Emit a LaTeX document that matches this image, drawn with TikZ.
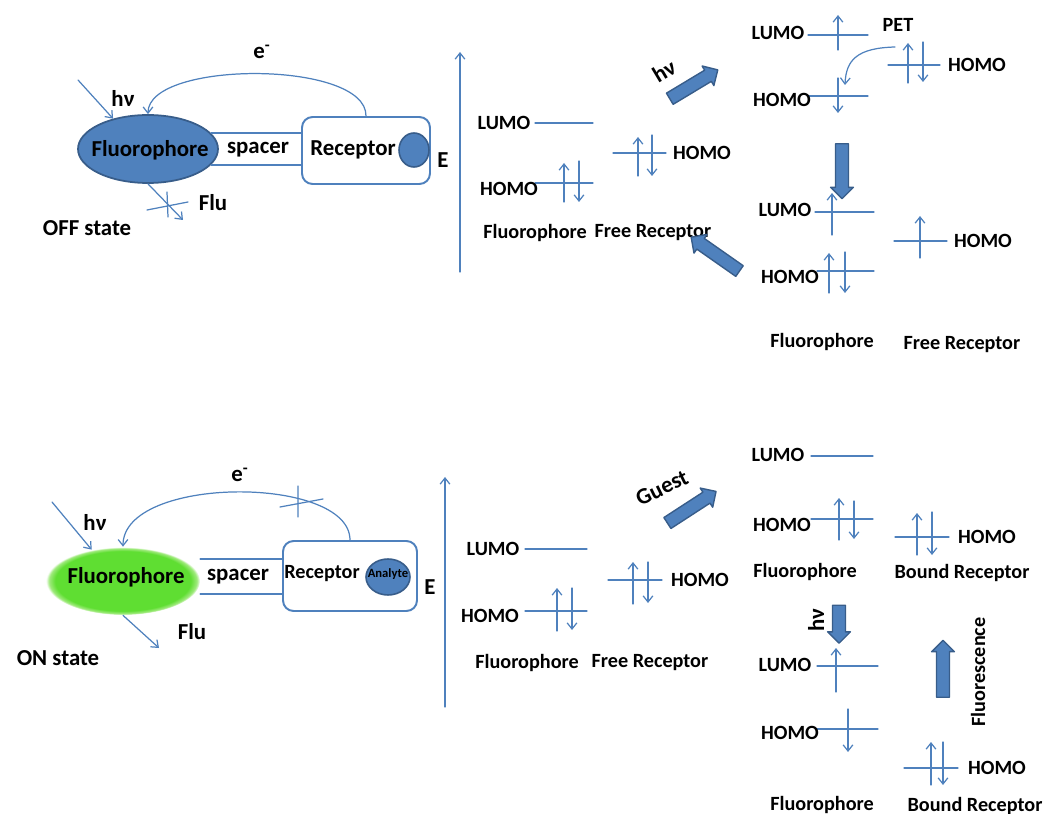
\documentclass[tikz,border=0pt]{standalone}
\usepackage{fontspec}
\setmainfont{Carlito}
\usetikzlibrary{arrows.meta,shapes.geometric,shapes.arrows}
\definecolor{lineblue}{RGB}{79,129,189}
\definecolor{darkblue}{RGB}{56,93,138}
\definecolor{glowgreen}{RGB}{95,222,50}
\definecolor{glowedge}{RGB}{160,234,125}
% soft green halo, the 25bp ring sits on the path border
\pgfdeclareradialshading{glow}{\pgfpoint{0bp}{0bp}}{color(0bp)=(glowgreen); color(22bp)=(glowgreen); color(24bp)=(glowedge); color(25bp)=(white); color(50bp)=(white)}
\tikzset{
  every picture/.style={line join=round, line cap=round},
  big/.style={font=\fontsize{13}{15}\selectfont\bfseries, inner sep=1pt},
  lbl/.style={font=\fontsize{11.5}{13}\selectfont\bfseries, inner sep=1pt},
  level/.style={draw=lineblue, line width=0.7pt},
  spin/.style={draw=lineblue, line width=0.7pt, -{Straight Barb[length=3.5pt,width=5.5pt]}},
  fluoro/.style={ellipse, fill=lineblue, draw=darkblue, line width=1pt, minimum width=2.8cm, minimum height=1.36cm, inner sep=0pt},
  recbox/.style={rectangle, rounded corners=6pt, draw=lineblue, line width=1.1pt, fill=white},
  site/.style={ellipse, fill=lineblue, draw=darkblue, line width=0.9pt, inner sep=0pt},
  blockarrow/.style={single arrow, fill=lineblue, draw=darkblue, line width=0.8pt, inner sep=3.3pt,
    single arrow head extend=2.8pt, single arrow head indent=0pt, minimum height=#1},
}

\begin{document}
\begin{tikzpicture}[x=0.02cm,y=-0.02cm]
\useasboundingbox (0,0) rectangle (1049,814);

% --- OFF state: free receptor quenches by PET
\node[fluoro] (fluA) at (148,149) {};
\node[big] (fluAt) at (150,150) {Fluorophore};
\node[recbox,minimum width=2.56cm,minimum height=1.34cm] (recA) at (366,150.5) {};
\node[big] (recAt) at (353,150) {Receptor};
\node[site,minimum width=0.6cm,minimum height=0.68cm] (siteA) at (414,150) {};
\draw[level,line width=1pt] (fluA.14) -- (fluA.14 -| recA.west) (fluA.-14) -- (fluA.-14 -| recA.west);
\node[big] (spA) at (258,150) {spacer};
\draw[spin] (recA.north) .. controls (367,60) and (148,60) .. (fluA.north);
\node[big] (eA) at (262,52) {e\textsuperscript{-}};
\coordinate (hvA) at (78,80);
\draw[spin] (hvA) -- (fluA.139);
\node[big] (hvlA) at (123,98) {hν};
\coordinate (fluoutA) at (183,220);
\draw[spin] (fluA.south) -- (fluoutA);
\draw[level] (147,210)--(188,202) (167,192)--(168,217);
\node[big] (fluxA) at (213,203) {Flu};
\node[big] (offA) at (87,228) {OFF state};
\node[big] (EA) at (443,160) {E};
\coordinate (axA0) at (460,272); \coordinate (axA1) at (460,52);
\draw[spin] (axA0) -- (axA1);

% levels before excitation
\draw[level] (535,123)--(593,123) (535,183)--(593,183) (613,153)--(666,153);
\draw[spin] (564,202)--(564,163); \draw[spin] (579,161)--(579,202);
\draw[spin] (638,176)--(638,137); \draw[spin] (652,135)--(652,176);
\node[lbl] (lA1) at (504,123) {LUMO};
\node[lbl] (hA1) at (509,189) {HOMO};
\node[lbl] (hA2) at (702,153) {HOMO};
\node[lbl] (fA1) at (535,233) {Fluorophore};
\node[lbl] (rA1) at (653,233) {Free Receptor};
\node[blockarrow=1.12cm,rotate=31] (bA1) at (691,86) {};
\node[big,rotate=31] (hvA2) at (664,71) {hν};

% excited state, PET from receptor
\draw[level] (808,35)--(868,35) (888,65)--(940,65) (808,96)--(868,96);
\draw[spin] (838,50)--(838,15);
\draw[spin] (908,83)--(908,43); \draw[spin] (923,42)--(923,82);
\draw[spin] (838,78)--(838,113);
\node[lbl] (lA2) at (778,33) {LUMO};
\node[lbl] (hA3) at (977,65) {HOMO};
\node[lbl] (hA4) at (782,100) {HOMO};
\node[lbl] (pet) at (898,25) {PET};
\coordinate (petA) at (895,47); \coordinate (petB) at (845,85);
\draw[spin] (petA) .. controls (857,48) and (846,60) .. (petB);
\node[blockarrow=1.1cm,rotate=-90] (bA2) at (842,168) {};

% after PET
\draw[level] (815,212)--(874,212) (817,271)--(874,271) (894,241)--(947,241);
\draw[spin] (832,235)--(832,193);
\draw[spin] (829,293)--(829,253); \draw[spin] (845,252)--(845,293);
\draw[spin] (920,258)--(920,216);
\node[lbl] (lA3) at (785,210) {LUMO};
\node[lbl] (hA5) at (790,277) {HOMO};
\node[lbl] (hA6) at (983,241) {HOMO};
\node[lbl] (fA2) at (822,342) {Fluorophore};
\node[lbl] (rA2) at (962,345) {Free Receptor};
\node[blockarrow=1.18cm,rotate=145] (bA3) at (718,256) {};

% --- ON state: bound receptor, no PET
\node[ellipse,shading=glow,minimum width=3.08cm,minimum height=1.36cm,inner sep=0pt] (fluB) at (123,581) {};
\node[big] (fluBt) at (126,577) {Fluorophore};
\node[recbox,minimum width=2.68cm,minimum height=1.4cm] (recB) at (350,576) {};
\node[big,font=\fontsize{11.5}{13}\selectfont\bfseries] (recBt) at (322,574) {Receptor};
\node[site,minimum width=0.88cm,minimum height=0.72cm] (siteB) at (388,577) {};
\node[font=\fontsize{7.2}{8}\selectfont\bfseries,inner sep=0pt] (siteBt) at (388,574) {Analyte};
\draw[level,line width=1pt] (recB.west |- 0,559) -- (fluB.east |- 0,559) (recB.west |- 0,594) -- (fluB.east |- 0,594);
\node[big] (spB) at (238,577) {spacer};
\draw[spin] (recB.north) .. controls (350,475) and (123,475) .. (fluB.north);
\draw[level] (280,507)--(323,499) (298,486)--(298,517);
\node[big] (eB) at (240,475) {e\textsuperscript{-}};
\coordinate (hvB) at (52,502);
\draw[spin] (hvB) -- (fluB.135);
\node[big] (hvlB) at (95,522) {hν};
\coordinate (fluoutB) at (159,648);
\draw[spin] (fluB.south) -- (fluoutB);
\node[big] (fluxB) at (192,632) {Flu};
\node[big] (onB) at (58,658) {ON state};
\node[big] (EB) at (430,587) {E};
\coordinate (axB0) at (445,707); \coordinate (axB1) at (445,477);
\draw[spin] (axB0) -- (axB1);

% levels with free receptor
\draw[level] (525,549)--(587,549) (525,611)--(587,611) (608,580)--(662,580);
\draw[spin] (557,631)--(557,588); \draw[spin] (572,588)--(572,630);
\draw[spin] (633,604)--(633,562); \draw[spin] (648,562)--(648,603);
\node[lbl] (lB1) at (493,549) {LUMO};
\node[lbl] (hB1) at (490,616) {HOMO};
\node[lbl] (hB2) at (700,580) {HOMO};
\node[lbl] (fB1) at (527,663) {Fluorophore};
\node[lbl] (rB1) at (650,663) {Free Receptor};
\node[blockarrow=1.16cm,rotate=33] (bB1) at (689,509) {};
\node[big,rotate=26] (guest) at (662,488) {Guest};

% guest bound
\draw[level] (811,456)--(873,456) (811,519)--(873,519) (895,537)--(949,537);
\draw[spin] (839,540)--(839,498); \draw[spin] (854,501)--(854,539);
\draw[spin] (917,555)--(917,513); \draw[spin] (932,512)--(932,555);
\node[lbl] (lB2) at (778,455) {LUMO};
\node[lbl] (hB3) at (782,525) {HOMO};
\node[lbl] (hB4) at (987,537) {HOMO};
\node[lbl] (fB2) at (805,572) {Fluorophore};
\node[lbl] (rB2) at (962,573) {Bound Receptor};
\node[blockarrow=0.76cm,rotate=-90] (bB2) at (839,621) {};
\node[big,rotate=90] (hvB2) at (816,620) {hν};

% excited, fluorescence
\draw[level] (817,666)--(878,666) (817,729)--(878,729) (904,768)--(958,768);
\draw[spin] (836,692)--(836,648);
\draw[spin] (848,709)--(848,752);
\draw[spin] (931,785)--(931,742); \draw[spin] (943,742)--(943,785);
\node[lbl] (lB3) at (785,665) {LUMO};
\node[lbl] (hB5) at (790,733) {HOMO};
\node[lbl] (hB6) at (997,768) {HOMO};
\node[lbl] (fB3) at (822,805) {Fluorophore};
\node[lbl] (rB3) at (975,806) {Bound Receptor};
\node[blockarrow=1.14cm,rotate=90] (bB3) at (943,672) {};
\node[lbl,rotate=90] (fluor) at (978,672) {Fluorescence};
\end{tikzpicture}
\end{document}
